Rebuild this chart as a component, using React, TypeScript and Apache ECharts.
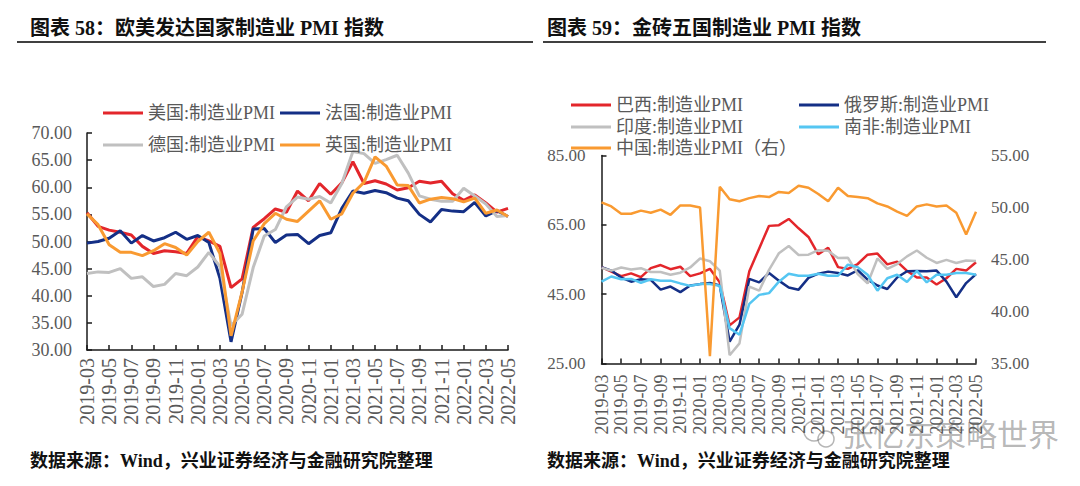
import React, { useEffect, useRef } from "react";
import * as echarts from "echarts";

const months = [
  "2019-03", "2019-04", "2019-05", "2019-06", "2019-07", "2019-08", "2019-09", "2019-10", "2019-11", "2019-12",
  "2020-01", "2020-02", "2020-03", "2020-04", "2020-05", "2020-06", "2020-07", "2020-08", "2020-09", "2020-10", "2020-11", "2020-12",
  "2021-01", "2021-02", "2021-03", "2021-04", "2021-05", "2021-06", "2021-07", "2021-08", "2021-09", "2021-10", "2021-11", "2021-12",
  "2022-01", "2022-02", "2022-03", "2022-04", "2022-05",
];

// 图表58
const usPMI = [55.3, 52.8, 52.1, 51.7, 51.2, 49.1, 47.8, 48.3, 48.1, 47.8,
  50.9, 50.1, 49.1, 41.5, 43.1, 52.6, 54.2, 56.0, 55.4, 59.3, 57.5, 60.7,
  58.7, 60.8, 64.7, 60.7, 61.2, 60.6, 59.5, 59.9, 61.1, 60.8, 61.1, 58.8,
  57.6, 58.6, 57.1, 55.4, 56.1];
const frPMI = [49.7, 50.0, 50.6, 52.0, 49.7, 51.1, 50.1, 50.7, 51.7, 50.4,
  51.1, 49.8, 43.2, 31.5, 40.6, 52.3, 52.4, 49.8, 51.2, 51.3, 49.6, 51.1,
  51.6, 56.1, 59.3, 58.9, 59.4, 59.0, 58.0, 57.5, 55.0, 53.6, 55.9, 55.6,
  55.5, 57.2, 54.7, 55.7, 54.6];
const dePMI = [44.1, 44.4, 44.3, 45.0, 43.2, 43.5, 41.7, 42.1, 44.1, 43.7,
  45.3, 48.0, 45.4, 34.5, 36.6, 45.2, 51.0, 52.2, 56.4, 58.2, 57.8, 58.3,
  57.1, 60.7, 66.6, 66.2, 64.4, 65.1, 65.9, 62.6, 58.4, 57.8, 57.4, 57.4,
  59.8, 58.4, 56.9, 54.6, 54.8];
const ukPMI = [55.1, 53.1, 49.4, 48.0, 48.0, 47.4, 48.3, 49.6, 48.9, 47.5,
  50.0, 51.7, 47.8, 32.6, 40.7, 50.1, 53.3, 55.2, 54.1, 53.7, 55.6, 57.5,
  54.1, 55.1, 58.9, 60.9, 65.6, 63.9, 60.4, 60.3, 57.1, 57.8, 58.1, 57.9,
  57.3, 58.0, 55.2, 55.8, 54.6];

// 图表59
const brPMI = [52.8, 51.5, 50.2, 51.0, 49.9, 52.5, 53.4, 52.2, 52.9, 50.2,
  51.0, 52.3, 48.4, 36.0, 38.3, 51.6, 58.2, 64.7, 64.9, 66.7, 64.0, 61.5,
  56.5, 58.4, 52.8, 52.3, 53.7, 56.4, 56.7, 53.6, 54.4, 51.7, 49.8, 49.8,
  47.8, 49.6, 52.3, 51.8, 54.2];
const ruPMI = [52.8, 51.8, 49.8, 48.6, 49.3, 49.1, 46.3, 47.2, 45.6, 47.5,
  47.9, 48.2, 47.5, 31.3, 36.2, 49.4, 48.4, 51.1, 48.9, 46.9, 46.3, 49.7,
  50.9, 51.5, 51.1, 50.4, 51.9, 49.2, 47.5, 46.5, 49.8, 51.6, 51.7, 51.6,
  51.8, 48.6, 44.1, 48.2, 50.8];
const inPMI = [52.6, 51.8, 52.7, 52.1, 52.5, 51.4, 51.4, 50.6, 51.2, 52.7,
  55.3, 54.5, 51.8, 27.4, 30.8, 47.2, 46.0, 52.0, 56.8, 58.9, 56.3, 56.4,
  57.7, 57.5, 55.4, 55.5, 50.8, 48.1, 55.3, 52.3, 53.7, 55.9, 57.6, 55.5,
  54.0, 54.9, 54.0, 54.7, 54.6];
const zaPMI = [48.6, 50.1, 49.3, 49.4, 48.3, 49.3, 48.9, 48.9, 48.1, 47.4,
  47.9, 47.9, 47.4, 35.2, 33.3, 42.2, 44.8, 45.3, 48.6, 50.9, 50.3, 50.3,
  50.9, 50.3, 50.3, 53.5, 52.8, 50.6, 46.0, 49.6, 50.6, 48.5, 51.7, 48.4,
  50.6, 50.6, 51.1, 51.1, 50.6];
const cnPMI = [50.5, 50.1, 49.4, 49.4, 49.7, 49.5, 49.8, 49.3, 50.2, 50.2,
  50.0, 35.7, 52.0, 50.8, 50.6, 50.9, 51.1, 51.0, 51.5, 51.4, 52.1, 51.9,
  51.3, 50.6, 51.9, 51.1, 51.0, 50.9, 50.4, 50.1, 49.6, 49.2, 50.1, 50.3,
  50.1, 50.2, 49.5, 47.4, 49.6];

const leftTicks = [25, 45, 65, 85];

const SERIF = "'Liberation Serif', 'Times New Roman', 'Noto Sans CJK SC', serif";
const CJK = "'Liberation Serif', 'Noto Sans CJK SC', sans-serif";
const GREY_TXT = "#595959";
const AXIS_CLR = "#1a1a1a";

const RED = "#E3262B";
const NAVY = "#142F86";
const GREY = "#C0C0C0";
const ORANGE = "#F99A31";
const SKY = "#55C6F2";

function xAxisCfg(gridIndex: number, margin: number, fontSize: number) {
  return {
    type: "category",
    gridIndex,
    data: months,
    boundaryGap: false,
    axisLine: { show: true, lineStyle: { color: AXIS_CLR, width: 1.5 } },
    axisTick: { show: true, inside: true, length: 5, interval: 1, lineStyle: { color: AXIS_CLR, width: 1.5 } },
    axisLabel: {
      rotate: 90, interval: 1, margin, fontSize, fontFamily: SERIF, color: GREY_TXT,
      showMinLabel: true, showMaxLabel: true, hideOverlap: false,
    },
    splitLine: { show: false },
  };
}

function lineSeries(name: string, data: number[], color: string, width: number, xi: number, yi: number) {
  return {
    name,
    type: "line",
    xAxisIndex: xi,
    yAxisIndex: yi,
    data,
    showSymbol: false,
    symbol: "none",
    lineStyle: { color, width },
    itemStyle: { color },
  };
}

const legendBase = {
  orient: "horizontal",
  icon: "rect",
  itemWidth: 40,
  itemHeight: 3,
  padding: 0,
  textStyle: { fontSize: 18, fontFamily: CJK, color: GREY_TXT },
};

export default function App() {
  const ref = useRef<HTMLDivElement>(null);

  useEffect(() => {
    if (!ref.current) return;
    const chart = echarts.init(ref.current, null, { renderer: "svg", width: 1080, height: 486 });
    const fmt = (v: number) => v.toFixed(2);
    const option: any = {
      animation: false,
      backgroundColor: "#ffffff",
      grid: [
        { left: 87, top: 133, width: 421, height: 217 },
        { left: 601.5, top: 155.5, width: 374.5, height: 208 },
      ],
      xAxis: [xAxisCfg(0, 8, 20), xAxisCfg(1, 11, 18)],
      yAxis: [
        {
          type: "value", gridIndex: 0, min: 30, max: 70, interval: 5,
          axisLine: { show: true, lineStyle: { color: AXIS_CLR, width: 1.5 } },
          axisTick: { show: true, inside: true, length: 5, lineStyle: { color: AXIS_CLR, width: 1.5 } },
          axisLabel: { formatter: fmt, fontSize: 18, fontFamily: SERIF, color: GREY_TXT, margin: 15 },
          splitLine: { show: false },
        },
        {
          type: "value", gridIndex: 1, min: 25, max: 85,
          axisLine: { show: true, lineStyle: { color: AXIS_CLR, width: 1.5 } },
          axisTick: { show: true, inside: true, length: 5, customValues: leftTicks, lineStyle: { color: AXIS_CLR, width: 1.5 } },
          axisLabel: { formatter: fmt, customValues: leftTicks, fontSize: 17, fontFamily: SERIF, color: GREY_TXT, margin: 16 },
          splitLine: { show: false },
        },
        {
          type: "value", gridIndex: 1, position: "right", min: 35, max: 55, interval: 5,
          axisLine: { show: false },
          axisTick: { show: false },
          axisLabel: { formatter: fmt, fontSize: 17, fontFamily: SERIF, color: GREY_TXT, margin: 15 },
          splitLine: { show: false },
        },
      ],
      legend: [
        { ...legendBase, left: 103, top: 104, itemGap: 5, data: ["美国:制造业PMI", "法国:制造业PMI"] },
        { ...legendBase, left: 103, top: 136, itemGap: 5, data: ["德国:制造业PMI", "英国:制造业PMI"] },
        { ...legendBase, left: 571, top: 96, itemGap: 56, data: ["巴西:制造业PMI", "俄罗斯:制造业PMI"] },
        { ...legendBase, left: 571, top: 118, itemGap: 56, data: ["印度:制造业PMI", "南非:制造业PMI"] },
        { ...legendBase, left: 571, top: 139, itemGap: 56, data: ["中国:制造业PMI（右）"] },
      ],
      series: [
        lineSeries("美国:制造业PMI", usPMI, RED, 3, 0, 0),
        lineSeries("法国:制造业PMI", frPMI, NAVY, 3, 0, 0),
        lineSeries("德国:制造业PMI", dePMI, GREY, 3, 0, 0),
        lineSeries("英国:制造业PMI", ukPMI, ORANGE, 3, 0, 0),
        lineSeries("巴西:制造业PMI", brPMI, RED, 2.5, 1, 1),
        lineSeries("俄罗斯:制造业PMI", ruPMI, NAVY, 2.5, 1, 1),
        lineSeries("印度:制造业PMI", inPMI, GREY, 2.5, 1, 1),
        lineSeries("南非:制造业PMI", zaPMI, SKY, 2.5, 1, 1),
        lineSeries("中国:制造业PMI（右）", cnPMI, ORANGE, 2.5, 1, 2),
      ],
      graphic: [
        {
          type: "text", left: 30, top: 18,
          style: { text: "图表 58：欧美发达国家制造业 PMI 指数", font: "bold 20px 'Liberation Serif', 'Noto Sans CJK SC', sans-serif", fill: "#111" },
        },
        { type: "line", shape: { x1: 17, y1: 42, x2: 533, y2: 42 }, style: { stroke: "#404040", lineWidth: 2 } },
        {
          type: "text", left: 547, top: 18,
          style: { text: "图表 59：金砖五国制造业 PMI 指数", font: "bold 20px 'Liberation Serif', 'Noto Sans CJK SC', sans-serif", fill: "#111" },
        },
        { type: "line", shape: { x1: 543, y1: 42, x2: 1046, y2: 42 }, style: { stroke: "#404040", lineWidth: 2 } },
        {
          type: "text", left: 30, top: 452,
          style: { text: "数据来源：Wind，兴业证券经济与金融研究院整理", font: "bold 18px 'Liberation Serif', 'Noto Sans CJK SC', sans-serif", fill: "#111" },
        },
        {
          type: "text", left: 547, top: 452,
          style: { text: "数据来源：Wind，兴业证券经济与金融研究院整理", font: "bold 18px 'Liberation Serif', 'Noto Sans CJK SC', sans-serif", fill: "#111" },
        },
        { type: "circle", shape: { cx: 814, cy: 431, r: 10 }, style: { fill: "none", stroke: "rgba(90,90,90,0.45)", lineWidth: 1.5 } },
        { type: "circle", shape: { cx: 826, cy: 439, r: 8 }, style: { fill: "none", stroke: "rgba(90,90,90,0.45)", lineWidth: 1.5 } },
        {
          type: "text", left: 842, top: 417,
          style: { text: "张忆东策略世界", font: "31px 'Noto Sans CJK SC', sans-serif", fill: "rgba(70,70,70,0.4)" },
        },
      ],
    };
    chart.setOption(option);
    return () => chart.dispose();
  }, []);

  return (
    <div
      ref={ref}
      style={{ position: "absolute", left: 0, top: 0, width: 1080, height: 486, background: "#fff" }}
    />
  );
}
